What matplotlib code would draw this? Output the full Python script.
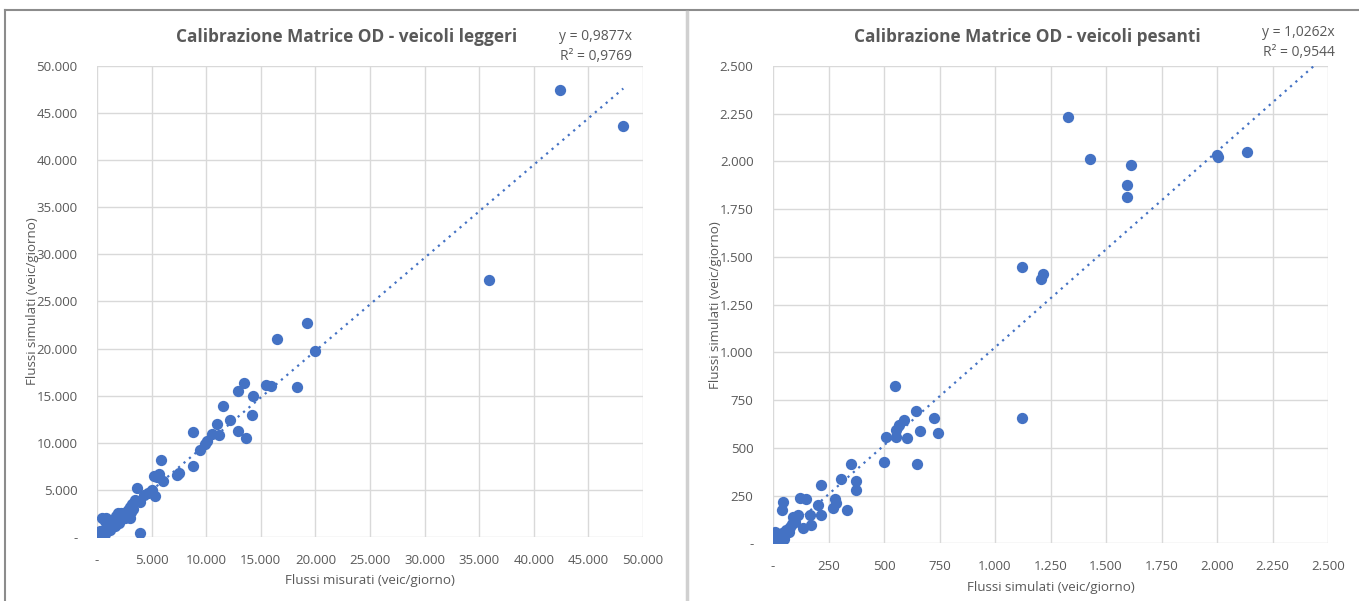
import numpy as np
import matplotlib.pyplot as plt
from matplotlib.lines import Line2D
from matplotlib.ticker import FuncFormatter, MultipleLocator

plt.rcParams['font.family'] = ['Open Sans', 'DejaVu Sans']

# veicoli leggeri: flussi misurati / simulati
leggeri_mis = [42400, 48200, 35900, 19200, 16500, 20000, 18300, 15500, 15900, 13500,
               12900, 14300, 11500, 14200, 12200, 11000, 12900, 13600, 8800, 11200,
               10500, 10100, 9900, 9400, 8800, 7500, 7300, 5900, 5700, 5500,
               5200, 6000, 5000, 5300, 4300, 4700, 3700, 3900, 3900, 3500,
               3200, 2800, 3000, 2400, 1900, 2100, 1200, 500, 700, 600,
               300, 200, 400, 300, 600, 800, 1000, 900, 1300, 1500,
               1600, 1800, 2000, 2200, 2500, 2700, 1100, 1400, 1700, 2300,
               2600, 3100, 3300, 450, 150, 700, 1200, 2000, 1900, 3000, 820, 2200]
leggeri_sim = [47500, 43600, 27300, 22700, 21000, 19700, 15900, 16100, 16000, 16400,
               15500, 15000, 13900, 13000, 12400, 12000, 11300, 10500, 11100, 10800,
               10900, 10200, 9900, 9200, 7500, 6800, 6600, 8200, 6700, 6400,
               6500, 5900, 5000, 4300, 4500, 4700, 5200, 400, 3700, 3900,
               3500, 2900, 3200, 2300, 2300, 1800, 1300, 2000, 1700, 700,
               200, 100, 300, 600, 400, 900, 800, 1200, 1100, 1400,
               1200, 1600, 2100, 1900, 2600, 2500, 1500, 1800, 2200, 2300,
               2000, 2700, 3000, 50, 250, 300, 700, 1500, 2500, 2000, 2000, 2550]

# veicoli pesanti
pesanti_mis = [1329, 1428, 1613, 1595, 1595, 2000, 2005, 2135, 1122, 1216,
               1207, 1122, 550, 644, 726, 744, 662, 650, 604, 592,
               569, 555, 511, 555, 502, 353, 372, 375, 308, 332,
               218, 278, 283, 269, 202, 218, 121, 148, 47, 39,
               166, 90, 112, 171, 135, 77, 9, 17, 30, 60,
               5, 20, 40, 70, 100, 25, 50, 85, 15, 10]
pesanti_sim = [2234, 2014, 1983, 1878, 1815, 2036, 2025, 2052, 1448, 1411,
               1385, 657, 824, 695, 655, 576, 587, 414, 552, 645,
               618, 592, 557, 557, 424, 414, 325, 278, 335, 173,
               304, 230, 210, 183, 199, 147, 237, 230, 216, 173,
               147, 138, 147, 94, 79, 85, 59, 16, 40, 70,
               10, 30, 55, 60, 110, 5, 25, 100, 40, 20]

pendenza = [0.9877, 1.0262]
r2 = ['0,9769', '0,9544']

blu = '#4472C4'
grigio = '#595959'
griglia = '#D9D9D9'


def fmt(v, pos):
    if abs(v) < 1e-9:
        return '-'
    return f'{v:,.0f}'.replace(',', '.')


W, H = 1359, 601
fig = plt.figure(figsize=(W / 100, H / 100), dpi=100)

ax1 = fig.add_axes([0.0714, 0.1065, 0.4017, 0.7837])
ax2 = fig.add_axes([0.5688, 0.0960, 0.4084, 0.7942])

# (asse, x, y, massimo, passo, titolo, etichetta x, indice, centro titolo px, y eq px, x eq px, pad x)
pannelli = [
    (ax1, leggeri_mis, leggeri_sim, 50000, 5000, 'Calibrazione Matrice OD - veicoli leggeri',
     'Flussi misurati (veic/giorno)', 0, 347, 37, 632, 5),
    (ax2, pesanti_mis, pesanti_sim, 2500, 250, 'Calibrazione Matrice OD - veicoli pesanti',
     'Flussi simulati (veic/giorno)', 1, 1027, 33, 1335, 5.5),
]

for ax, xs, ys, vmax, passo, titolo, xlab, i, tx, ey, ex, xpad in pannelli:
    ax.scatter(xs, ys, s=66, color=blu, zorder=3, linewidths=0)
    # linea di tendenza per l'origine
    xt = np.array([0, max(xs) if i == 0 else vmax])
    ax.plot(xt, pendenza[i] * xt, linestyle=(0, (1, 2.2)), color=blu, lw=1.6, zorder=2)
    ax.set_xlim(0, vmax)
    ax.set_ylim(0, vmax)
    ax.xaxis.set_major_locator(MultipleLocator(passo))
    ax.yaxis.set_major_locator(MultipleLocator(passo))
    ax.xaxis.set_major_formatter(FuncFormatter(fmt))
    ax.yaxis.set_major_formatter(FuncFormatter(fmt))
    ax.grid(True, color=griglia, lw=1)
    ax.set_axisbelow(True)
    for s in ax.spines.values():
        s.set_visible(False)
    ax.tick_params(length=0, labelsize=9.5, colors=grigio, pad=12)
    ax.tick_params(axis='y', pad=14)
    ax.set_xlabel(xlab, fontsize=9.6, color=grigio, labelpad=xpad)
    ax.set_ylabel('Flussi simulati (veic/giorno)', fontsize=9.6, color=grigio, labelpad=-2)
    fig.text(tx / W, 1 - 37 / H, titolo, ha='center', va='center',
             fontsize=12.4, fontweight='bold', color=grigio)
    fig.text(ex / W, 1 - ey / H, f'y = {pendenza[i]:.4f}x'.replace('.', ','),
             ha='right', va='center', fontsize=10, color=grigio)
    fig.text(ex / W, 1 - (ey + 19) / H, f'R² = {r2[i]}',
             ha='right', va='center', fontsize=10, color=grigio)

# cornici dei grafici
fig.add_artist(Line2D([0.004, 1.0], [0.983, 0.983], color='#8C8C8C', lw=1.5))
fig.add_artist(Line2D([0.004, 0.004], [0.0, 0.983], color='#8C8C8C', lw=1.5))
fig.add_artist(Line2D([0.5052, 0.5052], [0.0, 0.98], color='#D0D0D0', lw=2.5))

fig.savefig('out.png', dpi=100)
